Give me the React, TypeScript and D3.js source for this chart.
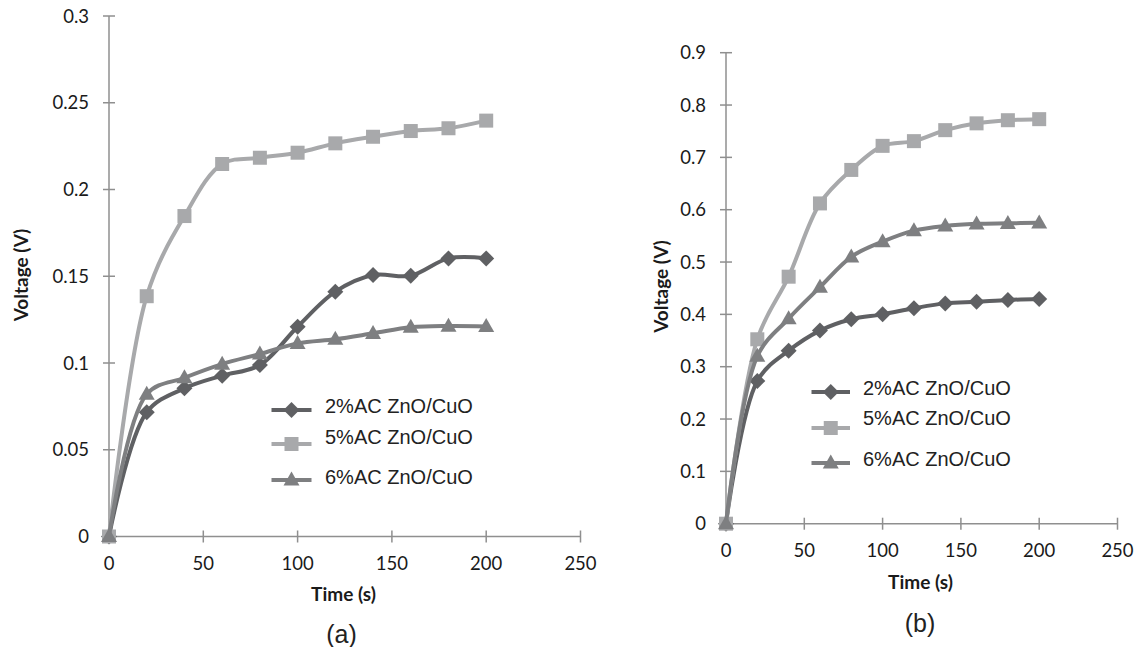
import React from "react";
import * as d3 from "d3";

const times = [0, 20, 40, 60, 80, 100, 120, 140, 160, 180, 200];
const seriesNames = ["2%AC ZnO/CuO", "5%AC ZnO/CuO", "6%AC ZnO/CuO"];
const seriesColors = ["#5f6063", "#a8a9ab", "#7e7f81"];
const seriesMarkers = ["diamond", "square", "triangle"];

const a2 = [0, 0.0716, 0.0854, 0.0927, 0.0988, 0.1209, 0.1411, 0.1507, 0.1503, 0.1603, 0.1603];
const a5 = [0, 0.1385, 0.1847, 0.2147, 0.2183, 0.2212, 0.2266, 0.2304, 0.2337, 0.2353, 0.2397];
const a6 = [0, 0.082, 0.0915, 0.0994, 0.1052, 0.1113, 0.1137, 0.1171, 0.1206, 0.1213, 0.1211];

const b2 = [0, 0.2727, 0.3306, 0.369, 0.3906, 0.4, 0.4116, 0.421, 0.424, 0.4275, 0.4294];
const b5 = [0, 0.3524, 0.472, 0.612, 0.676, 0.722, 0.731, 0.752, 0.765, 0.771, 0.773];
const b6 = [0, 0.32, 0.392, 0.452, 0.51, 0.539, 0.56, 0.569, 0.573, 0.574, 0.575];

const xTicks = [0, 50, 100, 150, 200, 250];
const aYTicks = [0, 0.05, 0.1, 0.15, 0.2, 0.25, 0.3];
const bYTicks = [0, 0.1, 0.2, 0.3, 0.4, 0.5, 0.6, 0.7, 0.8, 0.9];

const tickFont = "Lato, 'Open Sans', sans-serif";
const legendFont = "'Liberation Sans', Arial, sans-serif";

function Marker({ kind, x, y, color }: { kind: string; x: number; y: number; color: string }) {
  if (kind === "square") {
    const s = 14;
    return <rect x={x - s / 2} y={y - s / 2} width={s} height={s} fill={color} />;
  }
  if (kind === "diamond") {
    const r = 8;
    return <path d={`M${x},${y - r}L${x + r},${y}L${x},${y + r}L${x - r},${y}Z`} fill={color} />;
  }
  const h = 14;
  const w = 16;
  return <path d={`M${x},${y - h * 0.6}L${x + w / 2},${y + h * 0.4}L${x - w / 2},${y + h * 0.4}Z`} fill={color} />;
}

type PanelProps = {
  data: number[][];
  yTicks: number[];
  yMax: number;
  x0: number;
  x1: number;
  y0: number;
  y1: number;
  yFmt: (v: number) => string;
  legendLineX: [number, number];
  legendLineY: number[];
  legendTextY: number[];
  legendTextX: number;
  yTitleX: number;
  yTitleY: number;
  xTitleX: number;
  xTitleY: number;
  label: string;
  labelX: number;
  labelY: number;
};

function Panel(p: PanelProps) {
  const xs = d3.scaleLinear().domain([0, 250]).range([p.x0, p.x1]);
  const ys = d3.scaleLinear().domain([0, p.yMax]).range([p.y0, p.y1]);
  const line = d3
    .line<number>()
    .x((_, i) => xs(times[i]))
    .y((v) => ys(v))
    .curve(d3.curveCatmullRom.alpha(0.5));
  const axisColor = "#8f8f8f";
  return (
    <g>
      <line x1={p.x0} x2={p.x0} y1={p.y0} y2={p.y1} stroke={axisColor} strokeWidth={1.5} />
      <line x1={p.x0} x2={p.x1} y1={p.y0} y2={p.y0} stroke={axisColor} strokeWidth={1.5} />
      {p.yTicks.map((t) => (
        <g key={"y" + t}>
          <line x1={p.x0 - 6} x2={p.x0 + 6} y1={ys(t)} y2={ys(t)} stroke={axisColor} strokeWidth={1.5} />
          <text x={p.x0 - 20} y={ys(t) + 6.5} textAnchor="end" fontFamily={tickFont} fontSize={18.5} fill="#1a1a1a">
            {p.yFmt(t)}
          </text>
        </g>
      ))}
      {xTicks.map((t) => (
        <g key={"x" + t}>
          <line x1={xs(t)} x2={xs(t)} y1={p.y0 - 6} y2={p.y0 + 6} stroke={axisColor} strokeWidth={1.5} />
          <text x={xs(t)} y={p.y0 + 33.5} textAnchor="middle" fontFamily={tickFont} fontSize={18.5} fill="#1a1a1a">
            {t}
          </text>
        </g>
      ))}
      {p.data.map((vals, si) => (
        <g key={"s" + si}>
          <path d={line(vals) || ""} fill="none" stroke={seriesColors[si]} strokeWidth={4} />
          {vals.map((v, i) => (
            <Marker key={i} kind={seriesMarkers[si]} x={xs(times[i])} y={ys(v)} color={seriesColors[si]} />
          ))}
        </g>
      ))}
      {seriesNames.map((n, si) => (
        <g key={"l" + si}>
          <line
            x1={p.legendLineX[0]}
            x2={p.legendLineX[1]}
            y1={p.legendLineY[si]}
            y2={p.legendLineY[si]}
            stroke={seriesColors[si]}
            strokeWidth={4}
          />
          <Marker
            kind={seriesMarkers[si]}
            x={(p.legendLineX[0] + p.legendLineX[1]) / 2}
            y={p.legendLineY[si]}
            color={seriesColors[si]}
          />
          <text x={p.legendTextX} y={p.legendTextY[si] + 7} fontFamily={legendFont} fontSize={20} fill="#222">
            {n}
          </text>
        </g>
      ))}
      <text
        transform={`translate(${p.yTitleX},${p.yTitleY}) rotate(-90)`}
        textAnchor="middle"
        dominantBaseline="central"
        fontFamily={tickFont}
        fontWeight="bold"
        fontSize={19}
        fill="#1a1a1a"
      >
        Voltage (V)
      </text>
      <text x={p.xTitleX} y={p.xTitleY} textAnchor="middle" fontFamily={tickFont} fontWeight="bold" fontSize={19} fill="#1a1a1a">
        Time (s)
      </text>
      <text x={p.labelX} y={p.labelY} textAnchor="middle" fontFamily={legendFont} fontSize={25} fill="#222">
        {p.label}
      </text>
    </g>
  );
}

const fmtA = (v: number) => (v === 0 ? "0" : String(+v.toFixed(2)));
const fmtB = (v: number) => (v === 0 ? "0" : String(+v.toFixed(1)));

export default function App() {
  return (
    <svg
      width={1135}
      height={647}
      style={{ position: "absolute", left: 0, top: 0, background: "#fff" }}
    >
      <rect width={1135} height={647} fill="#fff" />
      <Panel
        data={[a2, a5, a6]}
        yTicks={aYTicks}
        yMax={0.3}
        x0={109}
        x1={580.5}
        y0={536.5}
        y1={16}
        yFmt={fmtA}
        legendLineX={[271.5, 311.5]}
        legendLineY={[410, 444, 480]}
        legendTextY={[406, 437, 477]}
        legendTextX={325}
        yTitleX={20}
        yTitleY={275}
        xTitleX={343.5}
        xTitleY={601}
        label="(a)"
        labelX={341.5}
        labelY={643}
      />
      <Panel
        data={[b2, b5, b6]}
        yTicks={bYTicks}
        yMax={0.9}
        x0={726}
        x1={1117.5}
        y0={523.7}
        y1={52.7}
        yFmt={fmtB}
        legendLineX={[811.5, 850]}
        legendLineY={[392, 428, 463]}
        legendTextY={[388, 418, 459]}
        legendTextX={863}
        yTitleX={660}
        yTitleY={286.5}
        xTitleX={920.5}
        xTitleY={589}
        label="(b)"
        labelX={920}
        labelY={632}
      />
    </svg>
  );
}
